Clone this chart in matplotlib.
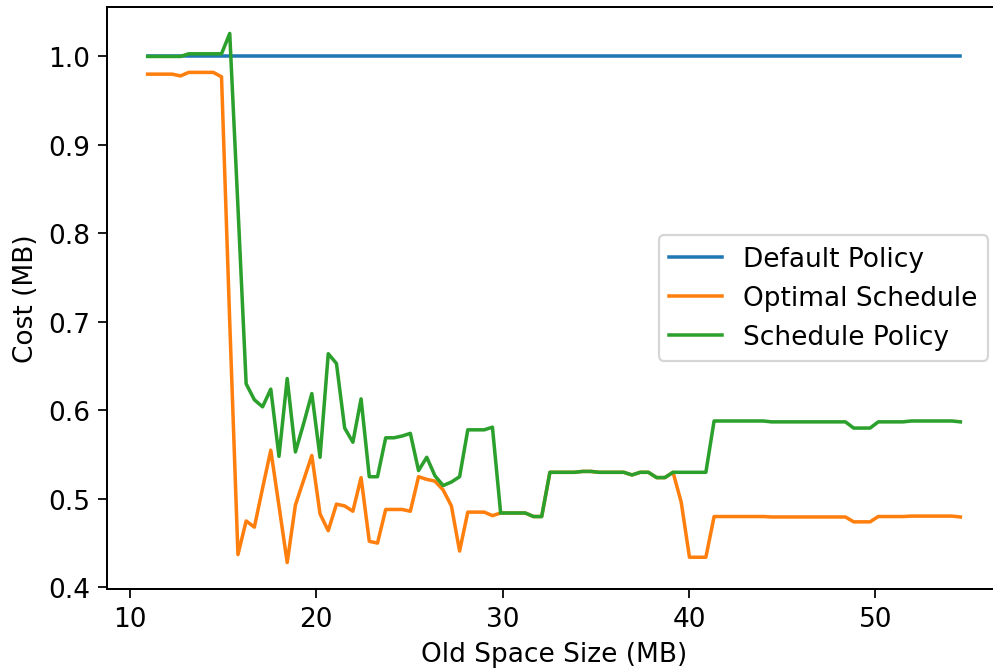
import numpy as np
import matplotlib
matplotlib.use("Agg")
import matplotlib.pyplot as plt

# old space sizes (MB), 100 evenly spaced runs
old_space = np.linspace(10.96, 54.56, 100)

default_policy = [1.0] * 100

optimal_schedule = [
    0.980, 0.980, 0.980, 0.980, 0.978, 0.982, 0.982, 0.982, 0.982, 0.977,
    0.700, 0.437, 0.475, 0.468, 0.512, 0.555, 0.492, 0.428, 0.493, 0.521,
    0.549, 0.483, 0.464, 0.494, 0.492, 0.486, 0.524, 0.452, 0.450, 0.488,
    0.488, 0.488, 0.486, 0.525, 0.522, 0.520, 0.510, 0.492, 0.441, 0.485,
    0.485, 0.485, 0.481, 0.484, 0.484, 0.484, 0.484, 0.480, 0.480, 0.530,
    0.530, 0.530, 0.530, 0.531, 0.531, 0.530, 0.530, 0.530, 0.530, 0.527,
    0.530, 0.530, 0.524, 0.524, 0.530, 0.496, 0.434, 0.434, 0.434, 0.480,
    0.480, 0.480, 0.480, 0.480, 0.480, 0.480, 0.4795, 0.4795, 0.4795, 0.4795,
    0.4795, 0.4795, 0.4795, 0.4795, 0.4795, 0.4795, 0.474, 0.474, 0.474, 0.480,
    0.480, 0.480, 0.480, 0.4805, 0.4805, 0.4805, 0.4805, 0.4805, 0.4805, 0.4795,
]

schedule_policy = [
    1.000, 1.000, 1.000, 1.000, 1.000, 1.003, 1.003, 1.003, 1.003, 1.003,
    1.026, 0.830, 0.630, 0.612, 0.604, 0.624, 0.548, 0.636, 0.553, 0.585,
    0.619, 0.547, 0.664, 0.653, 0.580, 0.564, 0.613, 0.525, 0.525, 0.569,
    0.569, 0.571, 0.574, 0.532, 0.547, 0.526, 0.515, 0.519, 0.525, 0.578,
    0.578, 0.578, 0.581, 0.484, 0.484, 0.484, 0.484, 0.480, 0.480, 0.530,
    0.530, 0.530, 0.530, 0.531, 0.531, 0.530, 0.530, 0.530, 0.530, 0.527,
    0.530, 0.530, 0.524, 0.524, 0.530, 0.530, 0.530, 0.530, 0.530, 0.588,
    0.588, 0.588, 0.588, 0.588, 0.588, 0.588, 0.587, 0.587, 0.587, 0.587,
    0.587, 0.587, 0.587, 0.587, 0.587, 0.587, 0.580, 0.580, 0.580, 0.587,
    0.587, 0.587, 0.587, 0.588, 0.588, 0.588, 0.588, 0.588, 0.588, 0.587,
]

plt.rcParams["font.size"] = 12
plt.rcParams["lines.linewidth"] = 1.6
plt.rcParams["xtick.major.size"] = 4.2
plt.rcParams["ytick.major.size"] = 4.2
plt.rcParams["axes.linewidth"] = 0.9

dpi = 158
fig = plt.figure(figsize=(993 / dpi, 672 / dpi), dpi=dpi)
ax = fig.add_subplot(111)
# axes runs a bit past the right edge, like the cropped original
fig.subplots_adjust(left=107 / 993, right=1001 / 993, bottom=1 - 590 / 672, top=1 - 8 / 672)

ax.plot(old_space, default_policy, label="Default Policy")
ax.plot(old_space, optimal_schedule, label="Optimal Schedule")
ax.plot(old_space, schedule_policy, label="Schedule Policy")

ax.set_xlabel("Old Space Size (MB)")
ax.set_ylabel("Cost (MB)")
ax.legend(loc="center right")

fig.savefig("out.png", dpi=dpi)
